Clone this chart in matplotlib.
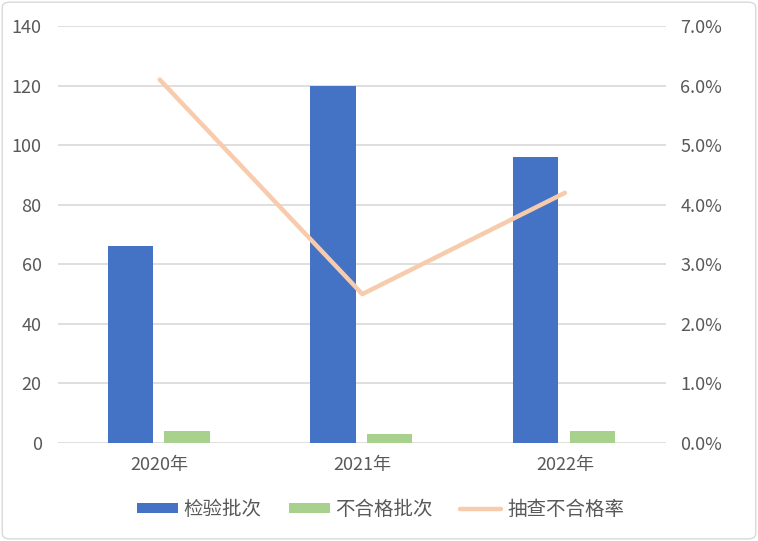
import matplotlib.pyplot as plt
import numpy as np
from matplotlib.patches import FancyBboxPatch
from matplotlib.ticker import FuncFormatter

plt.rcParams['font.family'] = ['Noto Sans CJK SC', 'DejaVu Sans']
plt.rcParams['font.weight'] = 'light'

years = ['2020年', '2021年', '2022年']
inspected = [66, 120, 96]
failed = [4, 3, 4]
fail_rate = [6.1, 2.5, 4.2]

blue = '#4472c4'
green = '#a9d18e'
orange = '#f8cbad'
grey = '#595959'

fig = plt.figure(figsize=(7.58, 5.41), dpi=100)
ax = fig.add_axes([0.077, 0.181, 0.802, 0.771])
ax2 = ax.twinx()

x = np.arange(len(years))
w = 0.225
ax.bar(x - 0.145, inspected, w, color=blue, label='检验批次', zorder=3)
ax.bar(x + 0.135, failed, w, color=green, label='不合格批次', zorder=3)
ax2.plot(x, fail_rate, color=orange, lw=3.2, solid_capstyle='round', label='抽查不合格率')

ax.set_xlim(-0.5, 2.5)
ax.set_ylim(0, 140)
ax.set_yticks(range(0, 141, 20))
ax2.set_ylim(0, 7)
ax2.set_yticks(np.arange(0, 7.1, 1))
ax2.yaxis.set_major_formatter(FuncFormatter(lambda v, p: '%.1f%%' % v))
ax.set_xticks(x)
ax.set_xticklabels(years)
ax.grid(axis='y', color='#d9d9d9', lw=1.2, zorder=0)

for a in (ax, ax2):
    for s in a.spines.values():
        s.set_visible(False)
    a.tick_params(length=0, colors=grey, labelsize=13)
ax.tick_params(axis='y', pad=12)
ax.tick_params(axis='x', pad=9)
ax2.tick_params(axis='y', pad=10)

h1, l1 = ax.get_legend_handles_labels()
h2, l2 = ax2.get_legend_handles_labels()
fig.legend(h1 + h2, l1 + l2, loc='center', bbox_to_anchor=(0.502, 0.059), ncol=3,
           frameon=False, fontsize=14, handlelength=2.1, handleheight=0.42,
           columnspacing=1.4, handletextpad=0.3, labelcolor=grey)

border = FancyBboxPatch((0.003, 0.004), 0.994, 0.992, boxstyle='round,pad=0,rounding_size=0.01',
                        transform=fig.transFigure, fill=False, ec='#d9d9d9', lw=1)
fig.patches.append(border)

fig.savefig('out.png', dpi=100)
